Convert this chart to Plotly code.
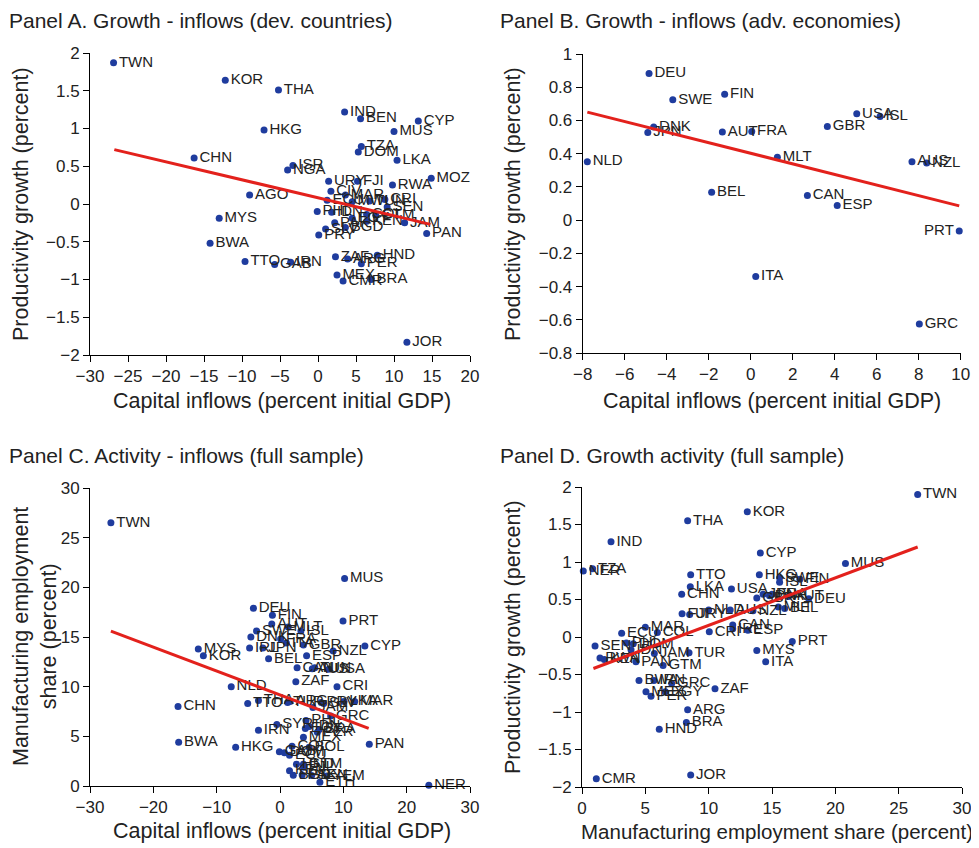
import plotly.graph_objects as go

# ---------------- Panel A data ----------------
a_codes = ["TWN","KOR","THA","IND","BEN","CYP","HKG","MUS","TZA","DOM","CHN","LKA","ISR","NGA","MOZ",
           "URY","FJI","RWA","CIV","AGO","MAR","ECU","MWI","TUN","CRI","PHL","IDN","COL","GTM","SEN",
           "EGY","JAM","KEN","PAK","BGD","SLV","PRY","PAN","BWA","MYS","TTO","GAB","IRN","ZAF","ARG",
           "HND","PER","MEX","CMR","BRA","JOR"]
a_x = [-26.9,-12.2,-5.2,3.5,5.6,13.2,-7.1,10.0,5.7,5.3,-16.3,10.4,-3.3,-4.0,14.9,
       1.4,5.2,9.8,1.7,-9.0,3.6,1.2,4.5,6.8,8.8,-0.1,1.8,6.4,7.6,9.1,
       4.5,11.4,6.4,2.2,3.6,1.0,0.1,14.3,-14.2,-13.0,-9.6,-5.7,-3.6,2.3,3.9,
       7.8,5.7,2.5,3.3,7.0,11.7]
a_y = [1.87,1.64,1.51,1.22,1.13,1.10,0.98,0.96,0.76,0.69,0.61,0.58,0.51,0.45,0.34,
       0.30,0.30,0.25,0.17,0.12,0.12,0.05,0.03,0.04,0.06,-0.10,-0.11,-0.14,-0.15,-0.04,
       -0.19,-0.25,-0.23,-0.25,-0.31,-0.33,-0.41,-0.39,-0.52,-0.19,-0.76,-0.80,-0.77,-0.70,-0.73,
       -0.68,-0.79,-0.94,-1.02,-1.00,-1.83]
a_fit_x = [-26.8, 14.8]
a_fit_y = [0.72, -0.27]

# ---------------- Panel B data ----------------
b_codes = ["DEU","SWE","FIN","DNK","JPN","AUT","FRA","USA","ISL","GBR","NLD","MLT","AUS","NZL",
           "BEL","CAN","ESP","PRT","ITA","GRC"]
b_x = [-4.84,-3.71,-1.24,-4.62,-4.9,-1.35,0.05,5.05,6.16,3.65,-7.78,1.27,7.68,8.38,
       -1.86,2.70,4.12,9.93,0.24,8.03]
b_y = [0.882,0.724,0.758,0.56,0.528,0.53,0.534,0.64,0.624,0.564,0.352,0.378,0.352,0.344,
       0.168,0.148,0.088,-0.066,-0.34,-0.626]
b_fit_x = [-7.78, 9.93]
b_fit_y = [0.65, 0.086]

# ---------------- Panel C data ----------------
c_codes = ["TWN","MUS","DEU","FIN","AUT","MLT","ISL","SWE","DNK","PRT","FRA","ITA","GBR","JPN","IRL",
           "CYP","NZL","MYS","KOR","ESP","BEL","CAN","AUS","TUN","USA","ZAF","CRI","NLD","CHN","THA",
           "TTO","TUR","ARG","PRY","SLV","LKA","MAR","JAM","GRC","SYR","IRN","PHL","IDN","EGY","BRA",
           "PER","MEX","PAN","BWA","HKG","COL","BOL","GAB","DOM","ECU","HND","GTM","KEN","BGD","PAK",
           "SEN","ETH","YEM","FJI","NER"]
c_x = [-26.7,10.2,-4.2,-1.2,-1.3,1.3,3.3,-3.7,-4.6,9.95,0.1,1.0,3.7,-2.7,-4.8,
       13.4,8.4,-12.9,-12.1,4.2,-1.8,2.7,5.1,5.5,7.7,2.5,9.0,-7.7,-16.1,-3.4,
       -5.1,1.2,1.6,6.5,6.9,10.1,11.8,5.2,8.0,-0.5,-3.4,4.1,4.6,4.0,6.2,
       5.9,3.7,14.1,-16.0,-7.0,1.9,4.6,-0.1,0.7,1.5,2.6,3.7,1.5,2.1,3.5,
       5.0,6.3,7.4,3.7,23.5]
c_y = [26.5,20.9,17.9,17.2,16.3,16.0,15.6,15.6,15.0,16.6,14.8,14.4,14.2,13.9,13.9,
       14.1,13.6,13.8,13.1,13.1,12.8,11.9,11.8,11.9,11.75,10.5,10.0,10.0,8.0,8.6,
       8.3,8.4,8.5,8.4,8.3,8.5,8.5,7.9,7.05,6.2,5.6,6.6,6.0,5.8,5.7,
       5.4,4.9,4.2,4.4,3.9,4.0,3.9,3.45,3.35,3.1,2.2,2.2,1.54,1.08,1.1,
       1.05,0.37,1.0,1.9,0.07]
c_fit_x = [-26.7, 14.0]
c_fit_y = [15.6, 5.8]

# ---------------- Panel D data ----------------
d_codes = ["TWN","KOR","THA","IND","CYP","MUS","TZA","NER","TTO","HKG","SWE","FIN","ISL","LKA","USA",
           "CHN","GBR","JPN","DNK","FRA","AUT","DEU","MLT","BEL","NLD","AUS","NZL","FJI","URY","CAN",
           "IRL","ESP","CRI","MAR","ECU","COL","SEN","PHL","DOM","IDN","PRT","RWA","KEN","PAN","JAM",
           "GTM","TUR","MYS","ITA","BWA","IRN","GRC","MEX","PER","EGY","ZAF","ARG","BRA","HND","JOR","CMR"]
d_x = [26.5,13.05,8.34,2.29,14.08,20.8,0.84,0.1,8.58,14.0,15.6,17.2,15.6,8.55,11.8,
       7.87,13.8,14.3,14.8,15.0,16.3,17.9,15.5,16.0,10.0,11.7,13.5,7.9,8.5,11.9,
       11.9,13.1,10.05,5.0,3.13,5.95,1.03,3.5,4.05,3.87,16.6,1.42,1.76,4.26,5.71,
       6.4,8.45,13.8,14.5,4.5,5.68,7.08,5.05,5.45,6.58,10.5,8.34,8.24,6.1,8.58,1.13]
d_y = [1.90,1.67,1.55,1.27,1.12,0.98,0.91,0.88,0.83,0.83,0.79,0.77,0.73,0.67,0.64,
       0.57,0.52,0.57,0.55,0.57,0.54,0.51,0.40,0.38,0.36,0.36,0.35,0.31,0.30,0.16,
       0.11,0.09,0.07,0.13,0.05,0.06,-0.12,-0.08,-0.09,-0.17,-0.06,-0.28,-0.30,-0.33,-0.22,
       -0.38,-0.21,-0.18,-0.33,-0.58,-0.58,-0.62,-0.73,-0.79,-0.73,-0.69,-0.97,-1.14,-1.23,-1.84,-1.89]
d_fit_x = [0.9, 26.5]
d_fit_y = [-0.42, 1.20]

FONT = "Liberation Sans, Arial, Helvetica, sans-serif"
DOT = "#1f3c9e"
RED = "#e3211c"
TXT = "#222222"

fig = go.Figure()

def add_panel(codes, xs, ys, fx, fy, ax, positions=None):
    xa = "x" if ax == 1 else f"x{ax}"
    ya = "y" if ax == 1 else f"y{ax}"
    pos = positions if positions else ["middle right"] * len(codes)
    fig.add_trace(go.Scatter(
        x=xs, y=ys, mode="markers+text", text=codes, textposition=pos,
        textfont=dict(size=15, color=TXT, family=FONT),
        marker=dict(size=7, color=DOT), cliponaxis=False, showlegend=False,
        xaxis=xa, yaxis=ya, hoverinfo="text"))
    fig.add_trace(go.Scatter(
        x=fx, y=fy, mode="lines", line=dict(color=RED, width=3),
        showlegend=False, xaxis=xa, yaxis=ya, hoverinfo="skip"))

add_panel(a_codes, a_x, a_y, a_fit_x, a_fit_y, 1)
b_pos = ["middle left" if c == "PRT" else "middle right" for c in b_codes]
add_panel(b_codes, b_x, b_y, b_fit_x, b_fit_y, 2, b_pos)
add_panel(c_codes, c_x, c_y, c_fit_x, c_fit_y, 3)
add_panel(d_codes, d_x, d_y, d_fit_x, d_fit_y, 4)

# page has an 8px body margin; work in page pixels and convert
OFF = 8
W, H = 971, 840
def px_x(a, b):
    return [(a - OFF) / W, (b - OFF) / W]
def px_y(top, bottom):
    return [1 - (bottom - OFF) / H, 1 - (top - OFF) / H]

axis_common = dict(showline=True, linecolor="black", linewidth=1, ticks="outside",
                   ticklen=6, tickcolor="black", showgrid=False, zeroline=False,
                   automargin=False,
                   tickfont=dict(size=17, color=TXT, family=FONT))

fig.update_layout(
    template="none",
    width=W, height=H, margin=dict(l=0, r=0, t=0, b=0, pad=0),
    paper_bgcolor="white", plot_bgcolor="white",
    font=dict(family=FONT, color=TXT),
    xaxis=dict(domain=px_x(90, 470), range=[-30, 20], dtick=5, anchor="y", **axis_common),
    yaxis=dict(domain=px_y(53, 355), range=[-2, 2], dtick=0.5, anchor="x", **axis_common),
    xaxis2=dict(domain=px_x(582.7, 960.7), range=[-8, 10], dtick=2, anchor="y2", **axis_common),
    yaxis2=dict(domain=px_y(54, 353), range=[-0.8, 1], dtick=0.2, anchor="x2", **axis_common),
    xaxis3=dict(domain=px_x(90, 470), range=[-30, 30], dtick=10, anchor="y3", **axis_common),
    yaxis3=dict(domain=px_y(488, 786), range=[0, 30], dtick=5, anchor="x3", **axis_common),
    xaxis4=dict(domain=px_x(582, 962), range=[0, 30], dtick=5, anchor="y4", **axis_common),
    yaxis4=dict(domain=px_y(487, 787), range=[-2, 2], dtick=0.5, anchor="x4", **axis_common),
)

def ann(text, x, y, angle=0, xanchor="center", size=21, yanchor="middle"):
    fig.add_annotation(text=text, x=(x - OFF) / W, y=1 - (y - OFF) / H, xref="paper", yref="paper",
                       showarrow=False, textangle=angle, xanchor=xanchor, yanchor=yanchor,
                       borderpad=0,
                       font=dict(size=size, color=TXT, family=FONT))

# Panel titles (top row anchored at the top edge so nothing is clipped)
ann("Panel A. Growth - inflows (dev. countries)", 8, OFF, xanchor="left", yanchor="top")
ann("Panel B. Growth - inflows (adv. economies)", 499, OFF, xanchor="left", yanchor="top")
ann("Panel C. Activity - inflows (full sample)", 8, 455, xanchor="left")
ann("Panel D. Growth activity (full sample)", 499, 455, xanchor="left")

# Axis titles
ann("Capital inflows (percent initial GDP)", 282, 401, size=21.5)
ann("Capital inflows (percent initial GDP)", 772, 401, size=21.5)
ann("Capital inflows (percent initial GDP)", 282, 831, size=21.5)
ann("Manufacturing employment share (percent)", 777, 831, size=20.5)
ann("Productivity growth (percent)", OFF, 204, angle=-90, size=21.5, xanchor="left")
ann("Productivity growth (percent)", 513, 204, angle=-90, size=21.5)
ann("Manufacturing employment<br>share (percent)", OFF, 637, angle=-90, size=21.5, xanchor="left")
ann("Productivity growth (percent)", 513, 637, angle=-90, size=21.5)

fig.write_html("out.html")
